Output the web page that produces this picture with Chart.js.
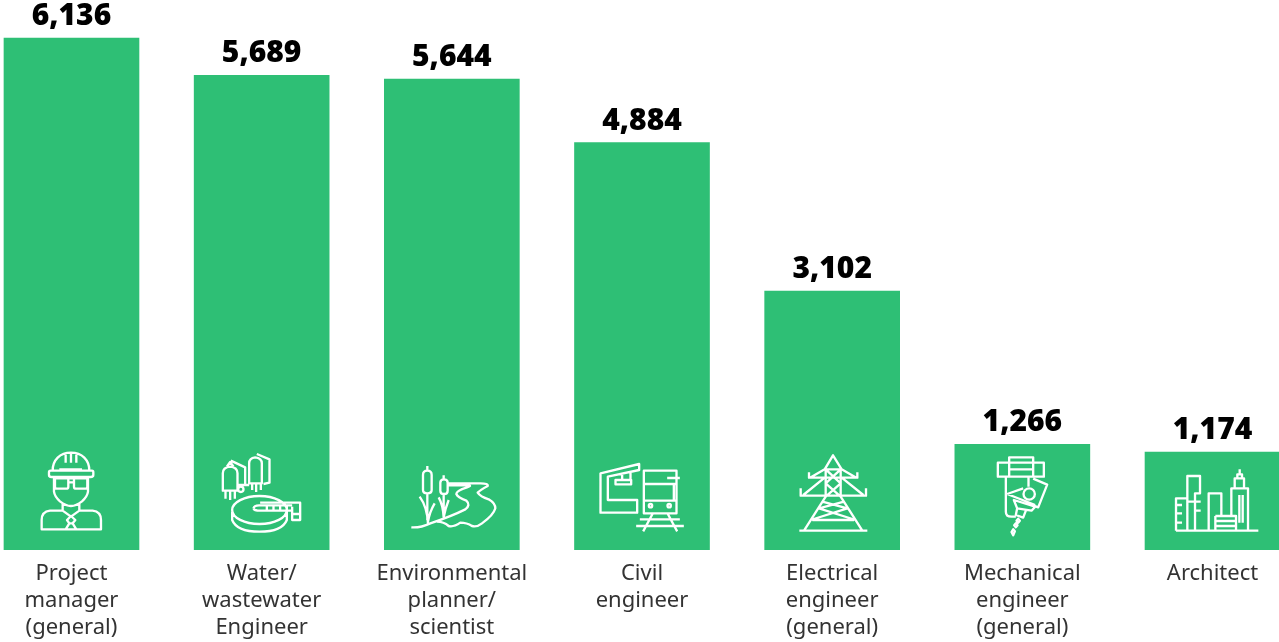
<!DOCTYPE html>
<html>
<head>
<meta charset="utf-8">
<title>Roles by headcount</title>
<script src="https://cdn.jsdelivr.net/npm/chart.js@4"></script>
<style>
  html, body { margin: 0; padding: 0; background: #fff; overflow: hidden; }
  #wrap { position: relative; width: 1279px; height: 642px; overflow: hidden; }
  #roles-chart { position: absolute; left: -24px; top: 0; }
</style>
</head>
<body>
<div id="wrap"><canvas id="roles-chart" width="1332" height="642"></canvas></div>
<script>
// Headcount per role
const roles = [
  ["Project", "manager", "(general)"],
  ["Water/", "wastewater", "Engineer"],
  ["Environmental", "planner/", "scientist"],
  ["Civil", "engineer"],
  ["Electrical", "engineer", "(general)"],
  ["Mechanical", "engineer", "(general)"],
  ["Architect"]
];
const headcount = [6136, 5689, 5644, 4884, 3102, 1266, 1174];

const barColor = "#2ebf75";

// Line icons, one per role. Each path is in a 3x grid: x runs from iconOrigins[i],
// y runs down from the top of a 330 tall box that sits on the baseline.
const iconOrigins = [12, 582, 12, 582, 12, 585, 1155];
const iconPaths = [
  // hard hat, glasses, shirt and tie
  `M158 92 C158 60 180 38 213 38 C246 38 268 60 268 92
   M152 92 H276 Q280 92 280 97 V105 Q280 111 272 111 H154 Q147 111 147 105 V97 Q147 92 152 92
   M178 88 H246 M197 44 V68 M213 38 V68 M229 44 V68
   M165 115 H205 V140 Q205 146 198 146 H172 Q165 146 165 140 Z
   M222 115 H262 V140 Q262 146 255 146 H229 Q222 146 222 140 Z
   M205 115 H222 M205 127 H222
   M162 115 V155 Q164 170 180 184 Q198 198 213 198 Q228 198 246 184 Q262 170 264 155 V115
   M188 188 V212 M238 188 V212 M188 212 L213 230 L238 212
   M188 212 H150 Q125 215 125 240 V268 H303 V240 Q303 215 278 212 H238
   M213 228 L201 240 L208 250 H218 L226 240 Z M208 250 L197 268 M218 250 L229 268`,
  // tanks and a round clarifier
  `M668 100 Q668 82 690 80 Q712 82 712 100 V152 H668 Z
   M680 80 L690 66 L700 80 M692 62 L735 82 V132 M712 135 H747
   M676 154 V176 M690 154 V180 M704 154 V176
   M747 70 Q747 54 765 52 Q785 54 785 70 V130 H747 Z
   M770 42 L808 58 V128 L790 132
   M756 130 V150 M768 130 V156 M782 130 V150
   M730 148 A8 8 0 1 1 714 148 A8 8 0 1 1 730 148
   M860 210 A82 42 0 1 1 696 210 A82 42 0 1 1 860 210
   M696 215 V240 Q710 275 778 275 Q846 275 860 240 V215
   M760 205 Q762 195 780 196 H876 M780 188 H900 V240 H876 V200
   M780 212 H876 M760 205 Q762 212 780 212
   M800 196 V212 M820 196 V212 M840 196 V212 M860 196 V212 M876 222 H900`,
  // reeds and a winding river
  `M141 78 V92 M128 105 Q128 92 141 92 Q154 92 154 105 V150 Q154 160 141 160 Q128 160 128 150 Z
   M141 160 V240 M118 170 Q140 200 143 250 M163 190 Q148 215 143 245
   M190 106 V118 M180 128 Q180 118 191 118 Q202 118 202 128 V152 Q202 162 191 162 Q180 162 180 152 Z
   M190 162 V235 M175 172 Q188 195 190 232 M205 180 Q195 205 190 232
   M202 130 H300 Q325 130 322 138 Q300 150 292 158 Q300 170 325 178 Q345 190 345 205 Q340 225 305 250 Q290 262 275 258 Q260 248 240 248 Q220 262 205 258 Q190 245 170 245
   M205 136 H265 Q275 137 260 142 Q228 152 228 162 Q232 172 258 182 Q272 195 255 208 Q215 228 150 250 Q120 264 93 262`,
  // station canopy and train on rails
  `M660 100 L776 72 V90 L682 110 V180 H770 V218 H660 Z
   M725 100 V120 M750 95 V120 M705 120 H752 V133 H705 Z
   M790 92 H888 V220 H790 Z M790 132 H888 M860 114 H898 M880 132 V182 M790 182 H888
   M815 197 A5 5 0 1 1 805 197 A5 5 0 1 1 815 197
   M871 197 A5 5 0 1 1 861 197 A5 5 0 1 1 871 197
   M816 222 L788 274 M862 222 L890 274 M778 238 H898 M767 258 H910`,
  // transmission tower
  `M217 46 L192 88 H243 Z
   M145 97 V113 H290 V97 M192 88 L148 113 M243 88 L287 113
   M120 145 V167 H316 V145 M192 113 L128 165 M243 113 L308 165
   M195 88 V170 L130 272 M240 88 V170 L305 272
   M195 88 L240 130 M240 88 L195 130 M195 130 L240 170 M240 130 L195 170
   M185 185 L260 205 M250 185 L175 205 M260 205 L150 240 M175 205 L285 240
   M155 240 H280 M116 272 H320`,
  // milling head
  `M748 68 V52 H820 V68 M714 68 H852 V110 H714 Z M748 68 V110 M820 68 V110 M748 88 H820
   M738 110 V215 Q738 230 755 230 H768 M806 110 V140
   M820 116 L862 134 L835 202 L798 188
   M742 162 L790 145 M742 162 L826 195
   M825 162 A17 17 0 1 1 791 162 A17 17 0 1 1 825 162
   M762 180 L826 200 L815 212 L772 205 Z
   M772 205 L768 225 L790 233 L798 212
   M775 236 L780 242 L775 248 L770 242 Z
   M768 250 L773 256 L768 262 L763 256 Z
   M760 268 L765 274 L760 286 L755 276 Z`,
  // city blocks
  `M1280 175 H1248 V272 M1248 195 H1266 M1248 220 H1266 M1248 248 H1266
   M1282 272 V108 H1320 V160 H1305 V272 M1282 185 H1322 M1305 212 H1322
   M1346 272 V160 H1384 V228
   M1366 228 H1428 V272 M1366 228 V272 M1366 243 H1428 M1366 258 H1428
   M1414 226 V145 H1464 V272 M1424 145 V115 H1452 V145 M1432 115 V103 H1446 V115 M1439 103 V88
   M1438 165 V248 M1448 165 V248
   M1248 272 H1495`
];

// Draws the value above each bar and its icon inside the bar
const barDecorations = {
  id: "barDecorations",
  afterDatasetsDraw(chart) {
    const ctx = chart.ctx;
    const bars = chart.getDatasetMeta(0).data;
    bars.forEach((bar, i) => {
      ctx.save();
      ctx.fillStyle = "#000";
      ctx.font = "900 30px 'Noto Sans'";
      ctx.textAlign = "center";
      ctx.textBaseline = "alphabetic";
      ctx.fillText(headcount[i].toLocaleString("en-US"), bar.x, bar.y - 13);
      ctx.restore();

      ctx.save();
      ctx.translate(bar.x - 67.5, bar.base - 110);
      ctx.scale(1 / 3, 1 / 3);
      ctx.translate(-iconOrigins[i], 0);
      ctx.strokeStyle = "#fff";
      ctx.lineWidth = 7;
      ctx.lineJoin = "round";
      ctx.stroke(new Path2D(iconPaths[i]));
      ctx.restore();
    });
  }
};

new Chart(document.getElementById("roles-chart"), {
  type: "bar",
  data: {
    labels: roles,
    datasets: [{
      data: headcount,
      backgroundColor: barColor,
      borderWidth: 0,
      barThickness: 135
    }]
  },
  options: {
    responsive: false,
    animation: false,
    layout: { padding: { left: 0.4, right: 0.4 } },
    plugins: { legend: { display: false }, tooltip: { enabled: false } },
    scales: {
      x: {
        grid: { display: false },
        border: { display: false },
        afterFit: scale => { scale.height = 92; },
        ticks: {
          autoSkip: false,
          maxRotation: 0,
          minRotation: 0,
          padding: 2,
          color: "#333",
          font: { family: "'Noto Sans'", size: 22, lineHeight: 1.23 }
        }
      },
      y: { display: false, min: 0, max: 6592 }
    }
  },
  plugins: [barDecorations]
});
</script>
</body>
</html>
